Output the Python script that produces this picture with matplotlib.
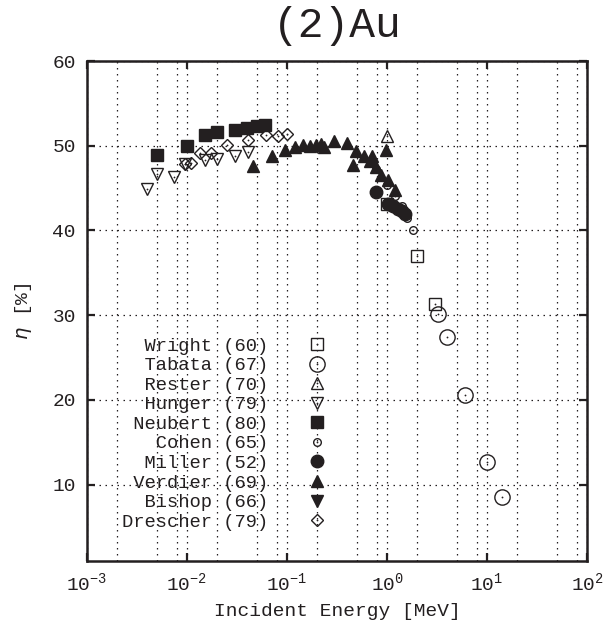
import matplotlib
matplotlib.use('Agg')
from matplotlib import pyplot as plt
from matplotlib.ticker import LogLocator, FixedLocator, FuncFormatter, NullFormatter
import numpy as np

# energy in MeV, eta in %
wright_e = [1.0, 2.0, 3.0]
wright_eta = [43.1, 37.0, 31.3]
tabata_e = [3.2, 4.0, 6.0, 10.0, 14.0]
tabata_eta = [30.2, 27.4, 20.6, 12.7, 8.5]
rester_e = [1.0]
rester_eta = [51.1]
hunger_e = [0.004, 0.005, 0.0075, 0.0095, 0.015, 0.02, 0.03, 0.041]
hunger_eta = [44.9, 46.7, 46.3, 47.8, 48.3, 48.4, 48.8, 49.3]
neubert_e = [0.005, 0.01, 0.015, 0.02, 0.03, 0.04, 0.05, 0.06]
neubert_eta = [48.9, 50.0, 51.3, 51.6, 51.9, 52.1, 52.3, 52.5]
cohen_e = [0.78, 1.0, 1.2, 1.4, 1.6, 1.8]
cohen_eta = [47.2, 45.4, 44.1, 42.9, 41.5, 40.1]
miller_e = [0.77, 1.03, 1.15, 1.3, 1.4, 1.5]
miller_eta = [44.5, 43.1, 42.9, 42.5, 42.3, 42.0]
verdier_e = [0.046, 0.07, 0.095, 0.12, 0.146, 0.17, 0.195, 0.217, 0.234, 0.295,
             0.395, 0.46, 0.49, 0.59, 0.676, 0.70, 0.776, 0.865, 0.98, 1.03, 1.2]
verdier_eta = [47.6, 48.8, 49.5, 49.8, 50.1, 50.0, 50.1, 50.2, 49.9, 50.6,
               50.3, 47.7, 49.4, 48.8, 48.2, 48.8, 47.5, 46.6, 49.5, 46.0, 44.8]
bishop_e = []
bishop_eta = []
drescher_e = [0.0095, 0.011, 0.0135, 0.0175, 0.025, 0.041, 0.062, 0.082, 0.1]
drescher_eta = [47.8, 48.0, 49.1, 49.2, 50.1, 50.7, 51.3, 51.1, 51.4]

INK = '#231f20'

# name, year, x, y, marker, size, filled, centre dot
series = [
    ('Wright', 60, wright_e, wright_eta, 's', 8.5, False, True),
    ('Tabata', 67, tabata_e, tabata_eta, 'o', 11, False, True),
    ('Rester', 70, rester_e, rester_eta, '^', 9, False, True),
    ('Hunger', 79, hunger_e, hunger_eta, 'v', 9, False, True),
    ('Neubert', 80, neubert_e, neubert_eta, 's', 8.5, True, False),
    ('Cohen', 65, cohen_e, cohen_eta, 'o', 5.5, False, True),
    ('Miller', 52, miller_e, miller_eta, 'o', 9, True, False),
    ('Verdier', 69, verdier_e, verdier_eta, '^', 9, True, False),
    ('Bishop', 66, bishop_e, bishop_eta, 'v', 9, True, False),
    ('Drescher', 79, drescher_e, drescher_eta, 'D', 5.8, False, True),
]

plt.rcParams['font.family'] = ['Liberation Mono', 'DejaVu Sans']
plt.rcParams['mathtext.fontset'] = 'dejavusans'

fig = plt.figure(figsize=(6.13, 6.25), dpi=100, facecolor='w')
ax = fig.add_axes([0.1419, 0.1024, 0.8157, 0.80])

handles = []
labels = []
for name, yr, xs, ys, mk, ms, filled, dot in series:
    h, = ax.plot(xs, ys, linestyle='none', marker=mk, markersize=ms,
                 markerfacecolor=INK if filled else 'none',
                 markeredgecolor=INK, markeredgewidth=1.0, zorder=3)
    if dot:
        d, = ax.plot(xs, ys, linestyle='none', marker='o', markersize=1.3,
                     markerfacecolor=INK, markeredgewidth=0, zorder=3)
        handles.append((h, d))
    else:
        handles.append(h)
    labels.append('%8s (%d)' % (name, yr))

ax.set_xscale('log')
ax.set_xlim(1e-3, 1e2)
ax.set_ylim(1, 60)

ax.xaxis.set_major_locator(LogLocator(base=10, numticks=10))
ax.xaxis.set_minor_locator(LogLocator(base=10, subs=[2, 5, 8], numticks=10))
ax.xaxis.set_minor_formatter(NullFormatter())
ax.xaxis.set_major_formatter(FuncFormatter(
    lambda v, p: r'$\mathregular{10^{%d}}$' % int(round(np.log10(v)))))
ax.yaxis.set_major_locator(FixedLocator([10, 20, 30, 40, 50, 60]))

grid_style = dict(color=INK, linestyle=(0, (1.2, 3.6)), linewidth=0.9)
ax.grid(True, which='major', **grid_style)
ax.grid(True, which='minor', axis='x', **grid_style)
ax.set_axisbelow(True)

ax.tick_params(which='major', direction='in', top=True, right=True,
               length=6, width=1.6, color=INK, labelsize=14, pad=8, labelcolor=INK)
ax.tick_params(which='minor', length=0)
for sp in ax.spines.values():
    sp.set_linewidth(1.8)
    sp.set_color(INK)

ax.set_title('(2)Au', fontsize=31, pad=17, color=INK)
ax.set_xlabel('Incident Energy [MeV]', fontsize=14, labelpad=6, color=INK)
ax.set_ylabel(r'$\eta$ [%]', fontsize=14, labelpad=13, color=INK)

ax.legend(handles, labels, loc='upper left', bbox_to_anchor=(0.07, 0.447),
          frameon=False, markerfirst=False, fontsize=13.5, handlelength=1.0,
          handletextpad=2.1, labelspacing=0.13, borderpad=0, borderaxespad=0,
          numpoints=1, labelcolor=INK)

plt.savefig('out.png', dpi=100)
